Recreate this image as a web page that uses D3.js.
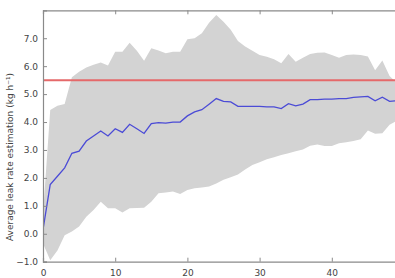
<!DOCTYPE html>
<html>
<head>
<meta charset="utf-8">
<script src="https://cdn.jsdelivr.net/npm/d3@7"></script>
<style>
  html, body { margin: 0; padding: 0; background: #fff; }
  svg { display: block; }
  text { font-family: "DejaVu Sans", sans-serif; }
</style>
</head>
<body>
<svg id="chart" width="395" height="278"></svg>
<script>
const steps = d3.range(0, 50);
const meanEstimate = [0.15, 1.76, 2.06, 2.36, 2.88, 2.96, 3.32, 3.50, 3.68, 3.50,
  3.76, 3.63, 3.92, 3.76, 3.59, 3.94, 3.98, 3.96, 4.00, 4.00,
  4.22, 4.36, 4.44, 4.64, 4.84, 4.74, 4.72, 4.56, 4.56, 4.56,
  4.56, 4.54, 4.54, 4.48, 4.66, 4.58, 4.64, 4.80, 4.80, 4.82,
  4.82, 4.84, 4.84, 4.88, 4.90, 4.92, 4.76, 4.89, 4.74, 4.76];
const upperBound = [0.70, 4.43, 4.58, 4.65, 5.60, 5.80, 5.95, 6.05, 6.13, 6.02,
  6.52, 6.52, 6.84, 6.55, 6.19, 6.64, 6.56, 6.46, 6.52, 6.52,
  6.96, 7.00, 7.18, 7.55, 7.83, 7.59, 7.30, 6.90, 6.70, 6.55,
  6.40, 6.34, 6.25, 6.10, 6.44, 6.16, 6.30, 6.44, 6.48, 6.49,
  6.40, 6.30, 6.40, 6.42, 6.40, 6.35, 5.85, 6.20, 5.65, 5.40];
const lowerBound = [-0.35, -0.95, -0.60, -0.05, 0.08, 0.26, 0.61, 0.85, 1.15, 0.91,
  0.91, 0.76, 0.91, 0.92, 0.93, 1.15, 1.45, 1.48, 1.51, 1.42,
  1.57, 1.63, 1.66, 1.69, 1.80, 1.93, 2.02, 2.12, 2.30, 2.46,
  2.56, 2.67, 2.74, 2.82, 2.88, 2.95, 3.02, 3.15, 3.20, 3.14,
  3.14, 3.24, 3.28, 3.32, 3.38, 3.70, 3.58, 3.60, 3.90, 4.05];
const trueRate = 5.5;
const xTicks = [0, 10, 20, 30, 40];
const yTicks = [-1, 0, 1, 2, 3, 4, 5, 6, 7];
const yLabel = "Average leak rate estimation (kg h\u207B\u00B9)";

const svg = d3.select("#chart");
const mLeft = 43, mRight = 404, mTop = 10.3, mBottom = 261.7;
const x = d3.scaleLinear().domain([0, 50]).range([mLeft, mRight]);
const y = d3.scaleLinear().domain([-1, 8]).range([mBottom, mTop]);

const data = steps.map((s, i) => ({ s, m: meanEstimate[i], u: upperBound[i], l: lowerBound[i] }));

svg.append("defs").append("clipPath").attr("id", "clip")
  .append("rect").attr("x", mLeft).attr("y", mTop).attr("width", mRight - mLeft).attr("height", mBottom - mTop);

const g = svg.append("g").attr("clip-path", "url(#clip)");

g.append("path").datum(data)
  .attr("fill", "#d3d3d3")
  .attr("d", d3.area().x(d => x(d.s)).y0(d => y(d.l)).y1(d => y(d.u)));

g.append("line")
  .attr("x1", mLeft).attr("x2", mRight)
  .attr("y1", y(trueRate)).attr("y2", y(trueRate))
  .attr("stroke", "#e5696a").attr("stroke-width", 2);

g.append("path").datum(data)
  .attr("fill", "none")
  .attr("stroke", "#4b4bd6").attr("stroke-width", 1.3)
  .attr("d", d3.line().x(d => x(d.s)).y(d => y(d.m)));

const axColor = "#8a8a8a", txtColor = "#444";
const fmt = d3.format(".1f");

const bottomAxis = svg.append("g").attr("transform", `translate(0,${mBottom})`)
  .call(d3.axisBottom(x).tickValues(xTicks).tickSize(-4).tickPadding(6).tickFormat(d3.format("d")));
const topAxis = svg.append("g").attr("transform", `translate(0,${mTop})`)
  .call(d3.axisTop(x).tickValues(xTicks).tickSize(-4).tickFormat(""));
const leftAxis = svg.append("g").attr("transform", `translate(${mLeft},0)`)
  .call(d3.axisLeft(y).tickValues(yTicks).tickSize(-4).tickPadding(5).tickFormat(fmt));

[bottomAxis, topAxis, leftAxis].forEach(a => {
  a.select(".domain").attr("stroke", axColor).attr("stroke-width", 1.2);
  a.selectAll(".tick line").attr("stroke", axColor);
  a.selectAll(".tick text").attr("fill", txtColor).attr("font-size", 9)
    .attr("font-family", "DejaVu Sans, sans-serif");
});
bottomAxis.selectAll(".tick text").attr("dy", "0.9em");

svg.append("text")
  .attr("transform", `translate(13,157) rotate(-90)`)
  .attr("text-anchor", "middle")
  .attr("font-size", 9)
  .attr("fill", txtColor)
  .text(yLabel);
</script>
</body>
</html>
